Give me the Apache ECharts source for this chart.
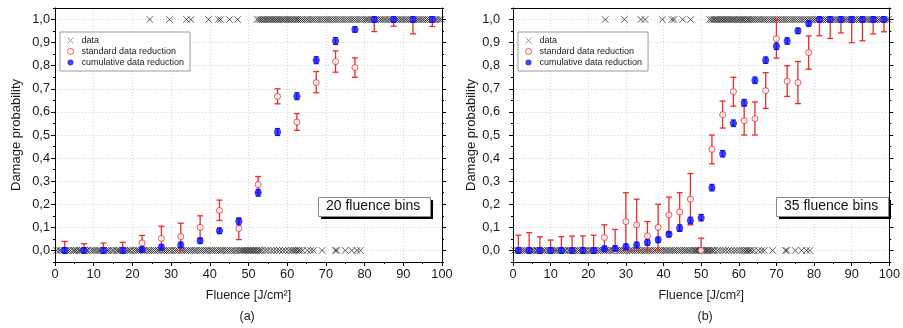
<!DOCTYPE html>
<html><head><meta charset="utf-8">
<script src="https://cdn.jsdelivr.net/npm/echarts@6/dist/echarts.min.js"></script>
<style>html,body{margin:0;padding:0;background:#fff}#c{width:903px;height:328px}</style>
</head><body><div id="c"></div>
<script>
// ---- raw shot data (fluence in J/cm², outcome 0 = no damage, 1 = damage)
const rawZeros = [0.4,1.1,1.6,2.3,2.9,3.4,4.0,4.7,5.1,5.6,6.2,6.5,7.0,7.6,8.1,8.5,9.2,9.8,10.3,10.9,11.4,11.8,12.5,13.1,13.6,14.0,14.7,15.2,15.9,16.3,16.8,17.4,18.0,18.6,19.1,19.5,20.2,20.8,21.3,21.7,22.4,22.9,23.5,24.1,24.6,25.2,25.7,26.3,26.8,27.4,28.0,28.5,29.1,29.6,30.2,30.9,31.4,31.9,32.6,33.1,33.7,34.2,34.8,35.3,35.9,36.4,37.0,37.6,38.1,38.7,39.2,39.8,40.4,40.9,41.5,42.0,42.6,43.1,43.7,44.3,44.8,45.4,45.9,46.5,47.0,47.6,48.1,48.5,48.9,49.3,49.7,50.1,50.5,50.9,51.3,51.7,52.1,52.6,53.0,53.5,54.3,55.0,55.8,56.5,57.3,58.0,58.8,59.5,60.3,61.0,61.5,62.0,62.4,62.9,63.3,64.0,65.2,66.1,66.8,69.0,72.4,72.8,75.0,76.7,78.0,78.9];
const rawOnes = [24.5,29.6,34.0,35.1,39.7,42.2,42.8,45.1,47.2,52.2,52.7,53.2,53.6,54.1,54.5,55.0,55.4,55.9,56.3,56.8,57.2,57.7,58.1,58.6,59.0,59.5,60.0,60.4,60.9,61.3,61.8,62.3,62.7,63.2,63.7,64.2,64.8,65.3,65.9,66.5,67.0,67.6,68.2,68.8,69.4,70.0,70.5,71.1,71.7,72.3,72.9,73.5,74.1,74.7,75.3,75.9,76.5,77.1,77.7,78.3,78.9,79.5,80.1,80.6,81.1,81.7,82.2,82.8,83.3,83.9,84.4,85.0,85.5,86.1,86.6,87.2,87.7,88.3,88.8,89.4,89.9,90.5,91.0,91.6,92.1,92.7,93.2,93.8,94.3,94.9,95.4,96.0,96.5,97.1,97.6,98.2,98.7,99.3,99.8];

// ---- (a) 20 fluence bins
const binsA = [2.5,7.5,12.5,17.5,22.5,27.5,32.5,37.5,42.5,47.5,52.5,57.5,62.5,67.5,72.5,77.5,82.5,87.5,92.5,97.5];
const stdA   = [0,0,0,0,0.033,0.052,0.06,0.1,0.173,0.095,0.285,0.667,0.556,0.727,0.818,0.792,1,1,1,1];
const stdLoA = [0,0,0,0,0,0,0,0.052,0.13,0.047,0.25,0.635,0.52,0.683,0.772,0.75,0.948,0.971,0.938,0.97];
const stdHiA = [0.039,0.029,0.032,0.035,0.065,0.105,0.118,0.15,0.218,0.138,0.32,0.70,0.593,0.775,0.864,0.834,1,1,1,1];
const cumA   = [0,0,0,0,0.004,0.014,0.024,0.042,0.085,0.126,0.25,0.513,0.668,0.824,0.907,0.957,1,1,1,1];
const cumErrA = [0.012,0.012,0.012,0.012,0.012,0.012,0.012,0.012,0.012,0.015,0.015,0.015,0.015,0.015,0.015,0.012,0.012,0.012,0.012,0.012];

// ---- (b) 35 fluence bins
const binsB = [1.43,4.29,7.14,10,12.86,15.71,18.57,21.43,24.29,27.14,30,32.86,35.71,38.57,41.43,44.29,47.14,50,52.86,55.71,58.57,61.43,64.29,67.14,70,72.86,75.71,78.57,81.43,84.29,87.14,90,92.86,95.71,98.57];
const stdB   = [0,0,0,0,0,0,0,0,0.056,0,0.125,0.111,0.063,0.1,0.154,0.167,0.222,0,0.438,0.588,0.688,0.562,0.571,0.692,0.917,0.733,0.727,0.857,1,1,1,1,1,1,1];
const stdLoB = [0,0,0,0,0,0,0,0,0,0,0,0,0,0,0.077,0.084,0.111,0,0.375,0.53,0.625,0.5,0.5,0.615,0.833,0.667,0.636,0.785,0.93,0.918,0.942,0.9,0.908,0.938,0.947];
const stdHiB = [0.066,0.077,0.059,0.045,0.06,0.062,0.063,0.066,0.111,0.091,0.25,0.222,0.125,0.2,0.231,0.25,0.333,0.053,0.5,0.647,0.75,0.625,0.643,0.77,1,0.8,0.818,0.929,1,1,1,1,1,1,1];
const cumB   = [0,0,0,0,0,0,0,0,0.007,0.009,0.016,0.024,0.034,0.046,0.07,0.097,0.13,0.142,0.272,0.419,0.551,0.64,0.737,0.824,0.884,0.907,0.951,0.983,1,1,1,1,1,1,1];
const cumErrB = [0.012,0.012,0.012,0.012,0.012,0.012,0.012,0.012,0.012,0.012,0.012,0.012,0.012,0.012,0.012,0.014,0.014,0.014,0.014,0.014,0.014,0.014,0.014,0.014,0.014,0.014,0.012,0.012,0.012,0.012,0.012,0.012,0.012,0.012,0.012];

// ---- tick values
const xTicks = [0,10,20,30,40,50,60,70,80,90,100];
const yMajor = [0,0.1,0.2,0.3,0.4,0.5,0.6,0.7,0.8,0.9,1.0];
const yMinor = [-0.05,0.05,0.15,0.25,0.35,0.45,0.55,0.65,0.75,0.85,0.95,1.05];
const panelLabels = ['(a)','(b)'];
const boxLabels = ['20 fluence bins','35 fluence bins'];
const seriesNames = ['data','standard data reduction','cumulative data reduction'];

const FONT = 'Arial, "Liberation Sans", sans-serif';
const RED = '#ee2a2a';
const BLUE = '#1212f2';
const GRIDS = [{left:55, top:8, width:387, height:254},{left:513, top:8, width:387, height:254}];

const chart = echarts.init(document.getElementById('c'), null, {renderer:'canvas'});

function errRender(color, capHalf, lw){
  return function(params, api){
    const x = api.value(0), v = api.value(1), lo = api.value(2), hi = api.value(3);
    const pl = api.coord([x, lo]), ph = api.coord([x, hi]);
    const ch = [];
    if (hi - lo > 0) ch.push({type:'line', shape:{x1:pl[0],y1:pl[1],x2:ph[0],y2:ph[1]}, style:{stroke:color, lineWidth:lw}});
    if (hi > v) ch.push({type:'line', shape:{x1:ph[0]-capHalf,y1:ph[1],x2:ph[0]+capHalf,y2:ph[1]}, style:{stroke:color, lineWidth:lw}});
    if (lo < v) ch.push({type:'line', shape:{x1:pl[0]-capHalf,y1:pl[1],x2:pl[0]+capHalf,y2:pl[1]}, style:{stroke:color, lineWidth:lw}});
    return {type:'group', children:ch};
  };
}
const fmt = v => (Math.round(v*10)/10).toFixed(1).replace('.', ',');

const xAxis = [], yAxis = [], series = [], legend = [], graphic = [];
[0,1].forEach(g => {
  const bins = g ? binsB : binsA, std = g ? stdB : stdA, lo = g ? stdLoB : stdLoA, hi = g ? stdHiB : stdHiA;
  const cum = g ? cumB : cumA, ce = g ? cumErrB : cumErrA;
  xAxis.push({gridIndex:g, type:'value', min:0, max:100, interval:10, position:'bottom',
    axisLine:{onZero:false, lineStyle:{color:'#000', width:1}},
    axisTick:{inside:false, length:4, lineStyle:{color:'#000'}},
    minorTick:{show:true, splitNumber:2, length:2, lineStyle:{color:'#000'}},
    axisLabel:{fontSize:12.8, color:'#1a1a1a', margin:6, fontFamily:FONT},
    splitLine:{show:true, lineStyle:{color:'#d8d8d8', type:[1,2]}},
    name:'Fluence [J/cm²]', nameLocation:'middle', nameGap:27,
    nameTextStyle:{fontSize:12.5, color:'#1a1a1a', fontFamily:FONT}});
  xAxis.push({gridIndex:g, type:'value', min:0, max:100, position:'top',
    axisLine:{onZero:false, lineStyle:{color:'#000'}}, axisTick:{show:false}, axisLabel:{show:false}, splitLine:{show:false}});
  const yBase = {gridIndex:g, type:'value', min:-0.05, max:1.05};
  yAxis.push(Object.assign({}, yBase, {position:'left',
    axisLine:{show:true, onZero:false, lineStyle:{color:'#000'}},
    axisTick:{show:true, inside:false, length:4, customValues:yMajor, lineStyle:{color:'#000'}},
    axisLabel:{customValues:yMajor, formatter:fmt, fontSize:12.8, color:'#1a1a1a', margin: g ? 13 : 5, fontFamily:FONT},
    splitLine:{show:true, lineStyle:{color:'#d8d8d8', type:[1,2]}},
    name:'Damage probability', nameLocation:'middle', nameGap:32, nameRotate:90,
    nameTextStyle:{fontSize:13, color:'#1a1a1a', fontFamily:FONT}}));
  yAxis.push(Object.assign({}, yBase, {position:'left',
    axisLine:{show:false, onZero:false}, axisTick:{show:true, inside:false, length:2, customValues:yMinor, lineStyle:{color:'#000'}},
    axisLabel:{show:false}, splitLine:{show:false}}));
  yAxis.push(Object.assign({}, yBase, {position:'right',
    axisLine:{show:true, onZero:false, lineStyle:{color:'#000'}}, axisTick:{show:true, inside:false, length:4, customValues:yMajor, lineStyle:{color:'#000'}},
    axisLabel:{show:false}, splitLine:{show:false}}));
  yAxis.push(Object.assign({}, yBase, {position:'right',
    axisLine:{show:false, onZero:false}, axisTick:{show:true, inside:false, length:2, customValues:yMinor, lineStyle:{color:'#000'}},
    axisLabel:{show:false}, splitLine:{show:false}}));
  const xi = g*2, yi = g*4;
  series.push({name:'data', type:'scatter', xAxisIndex:xi, yAxisIndex:yi, z:2,
    symbol:'path://M0,0L10,10M0,10L10,0', symbolSize:6.5, symbolKeepAspect:true,
    itemStyle:{color:'rgba(0,0,0,0)', borderColor:'rgba(0,0,0,0.8)', borderWidth:1},
    emphasis:{disabled:true}, silent:true,
    data: rawZeros.map(v => [v,0]).concat(rawOnes.map(v => [v,1]))});
  series.push({name:'stdErr', type:'custom', xAxisIndex:xi, yAxisIndex:yi, z:3, silent:true,
    renderItem: errRender(RED, 3, 1.3), data: bins.map((b,i) => [b, std[i], lo[i], hi[i]])});
  series.push({name:'standard data reduction', type:'scatter', xAxisIndex:xi, yAxisIndex:yi, z:4,
    symbol:'circle', symbolSize:6, itemStyle:{color:'#fff', borderColor:RED, borderWidth:1},
    emphasis:{disabled:true}, silent:true, data: bins.map((b,i) => [b, std[i]])});
  series.push({name:'cumErr', type:'custom', xAxisIndex:xi, yAxisIndex:yi, z:5, silent:true,
    renderItem: errRender(BLUE, 2.5, 1.2), data: bins.map((b,i) => [b, cum[i], Math.max(-0.05, cum[i]-ce[i]), Math.min(1.05, cum[i]+ce[i])])});
  series.push({name:'cumulative data reduction', type:'scatter', xAxisIndex:xi, yAxisIndex:yi, z:6,
    symbol:'circle', symbolSize:7, itemStyle:{color:BLUE},
    emphasis:{disabled:true}, silent:true, data: bins.map((b,i) => [b, cum[i]])});
  legend.push({data:[
      {name:seriesNames[0], itemStyle:{borderColor:'#808080', borderWidth:1}},
      {name:seriesNames[1], itemStyle:{color:'#fff', borderColor:RED, borderWidth:1}},
      {name:seriesNames[2]}],
    orient:'vertical', left: g ? 518 : 60, top:32,
    padding:[3,6,3,7], itemWidth:12, itemHeight:6, itemGap:0,
    borderColor:'#9a9a9a', borderWidth:1, backgroundColor:'#fff',
    textStyle:{fontSize:9, lineHeight:11, color:'#1a1a1a', fontFamily:FONT}, selectedMode:false});
  const gr = GRIDS[g];
  const bx = g ? 776 : 318;
  graphic.push({type:'rect', left:bx+3, top:200, shape:{width:112, height:19}, style:{fill:'#000'}, z:10});
  graphic.push({type:'rect', left:bx, top:197, shape:{width:112, height:19}, style:{fill:'#fff', stroke:'#8a8a8a', lineWidth:1}, z:11});
  graphic.push({type:'text', left:bx + 56 - 48, top:199, z:12, style:{text:boxLabels[g], fontSize:14, fill:'#111', font:'14px ' + FONT}});
  graphic.push({type:'text', left: gr.left + gr.width/2 - 9, top:310, z:12, style:{text:panelLabels[g], fill:'#1a1a1a', font:'12.5px ' + FONT}});
});

chart.setOption({
  animation:false,
  backgroundColor:'#fff',
  textStyle:{fontFamily:FONT},
  grid: GRIDS.map(g => Object.assign({containLabel:false}, g)),
  xAxis, yAxis, series, legend, graphic
});
</script>
</body></html>
